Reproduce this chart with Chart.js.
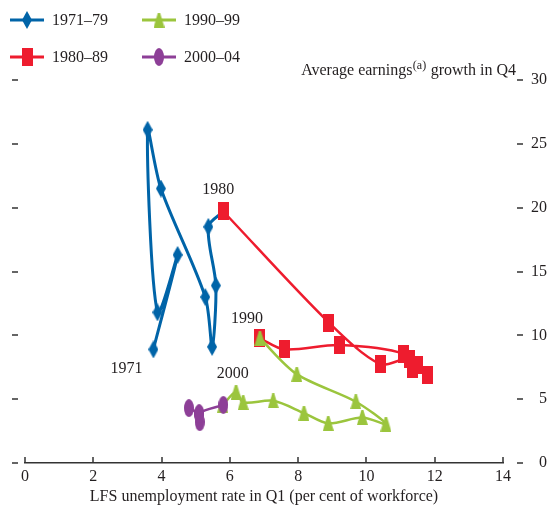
<!DOCTYPE html>
<html>
<head>
<meta charset="utf-8">
<script src="https://cdn.jsdelivr.net/npm/chart.js@4.4.1/dist/chart.umd.min.js"></script>
<style>
  html, body { margin: 0; padding: 0; background: #fff; }
  #wrap { width: 547px; height: 506px; }
</style>
</head>
<body>
<div id="wrap"><canvas id="chart" width="547" height="506"></canvas></div>
<script>
// unemployment rate in Q1 (x) and average earnings growth in Q4 (y), by year
// the 70s line runs on to the 1980 point, the 80s line to 1990 (no marker drawn there)
const YEARS_70S = ["1971", "1972", "1973", "1974", "1975", "1976", "1977", "1978", "1979", "1980"]
const UNEMP_70S = [3.76, 4.47, 3.88, 3.59, 3.98, 5.28, 5.48, 5.59, 5.37, 5.81]
const EARN_70S  = [8.9, 16.3, 11.8, 26.1, 21.5, 13.0, 9.1, 13.9, 18.5, 19.7]

const YEARS_80S = ["1980", "1981", "1982", "1983", "1984", "1985", "1986", "1987", "1988", "1989", "1990"]
const UNEMP_80S = [5.81, 8.9, 10.4, 11.25, 11.8, 11.5, 11.35, 11.1, 9.21, 7.6, 6.88]
const EARN_80S  = [19.7, 11.0, 7.75, 8.15, 6.9, 7.7, 7.35, 8.55, 9.24, 8.9, 9.77]

const YEARS_90S = ["1990", "1991", "1992", "1993", "1994", "1995", "1996", "1997", "1998", "1999", "2000"]
const UNEMP_90S = [6.88, 7.96, 9.69, 10.57, 9.88, 8.88, 8.17, 7.27, 6.39, 6.18, 5.79]
const EARN_90S  = [9.77, 6.96, 4.8, 3.05, 3.56, 3.11, 3.91, 4.87, 4.74, 5.56, 4.54]

const YEARS_00S = ["2000", "2001", "2002", "2003", "2004"]
const UNEMP_00S = [5.81, 5.1, 5.12, 5.1, 4.8]
const EARN_00S  = [4.55, 3.9, 3.2, 3.8, 4.3]

const X_TICKS = [0, 2, 4, 6, 8, 10, 12, 14]
const Y_TICKS = [0, 5, 10, 15, 20, 25, 30]

const BLUE = "#0064a8"
const RED = "#ee1c2e"
const GREEN = "#9bc53d"
const PURPLE = "#8d3f97"
const INK = "#231f20"
const AXIS = "#333333"
const FONT = "'Liberation Serif', 'DejaVu Serif', serif"

// little canvases used as point styles
function marker(w, h, color, draw) {
  const c = document.createElement("canvas")
  c.width = w
  c.height = h
  const g = c.getContext("2d")
  g.fillStyle = color
  g.beginPath()
  draw(g, w, h)
  g.fill()
  return c
}

const DIAMOND = marker(10, 18, BLUE, (g, w, h) => {
  g.moveTo(w / 2, 0); g.lineTo(w, h / 2); g.lineTo(w / 2, h); g.lineTo(0, h / 2); g.closePath()
})
const SQUARE = marker(11, 18, RED, (g, w, h) => g.rect(0, 0, w, h))
const TRIANGLE = marker(11, 15, GREEN, (g, w, h) => {
  g.moveTo(w / 2 - 1, 0); g.lineTo(w / 2 + 1, 0); g.lineTo(w, h); g.lineTo(0, h); g.closePath()
})
const OVAL = marker(10, 18, PURPLE, (g, w, h) => g.ellipse(w / 2, h / 2, w / 2, h / 2, 0, 0, Math.PI * 2))

const pts = (xs, ys) => xs.map((x, i) => ({ x: x, y: ys[i] }))
const lastHidden = n => Array.from({ length: n }, (_, i) => (i === n - 1 ? 0 : 6))

const LEGEND = [
  { label: "1971–79", color: BLUE, img: DIAMOND, x: 10, y: 20 },
  { label: "1990–99", color: GREEN, img: TRIANGLE, x: 142, y: 20 },
  { label: "1980–89", color: RED, img: SQUARE, x: 10, y: 57 },
  { label: "2000–04", color: PURPLE, img: OVAL, x: 142, y: 57 }
]

// year labels next to the first point of each decade
const NOTES = [
  { text: "1971", set: 0, idx: 0, dx: -27, dy: 19 },
  { text: "1980", set: 1, idx: 0, dx: -5, dy: -22 },
  { text: "1990", set: 2, idx: 0, dx: -13, dy: -19 },
  { text: "2000", set: 2, idx: 10, dx: 10, dy: -31 }
]

const decor = {
  id: "decor",
  afterDraw(chart) {
    const { ctx, chartArea: a, scales: { x, y } } = chart
    ctx.save()
    ctx.strokeStyle = AXIS
    ctx.lineWidth = 1.5
    ctx.beginPath()
    X_TICKS.forEach(v => {
      const px = Math.round(x.getPixelForValue(v))
      ctx.moveTo(px, a.bottom); ctx.lineTo(px, a.bottom - 6)
    })
    Y_TICKS.forEach(v => {
      const py = Math.round(y.getPixelForValue(v))
      ctx.moveTo(a.left - 13, py); ctx.lineTo(a.left - 7, py)
      ctx.moveTo(a.right + 14, py); ctx.lineTo(a.right + 20, py)
    })
    ctx.stroke()

    // legend
    ctx.font = "16px " + FONT
    ctx.fillStyle = INK
    ctx.textBaseline = "middle"
    LEGEND.forEach(l => {
      ctx.strokeStyle = l.color
      ctx.lineWidth = 3
      ctx.beginPath(); ctx.moveTo(l.x, l.y); ctx.lineTo(l.x + 34, l.y); ctx.stroke()
      ctx.drawImage(l.img, l.x + 17 - l.img.width / 2, l.y - l.img.height / 2)
      ctx.fillText(l.label, l.x + 42, l.y + 1)
    })

    // y axis title with superscript
    const right = 516, base = 75
    ctx.textBaseline = "alphabetic"
    const a1 = "Average earnings", a2 = "(a)", a3 = " growth in Q4"
    ctx.font = "16px " + FONT
    const w1 = ctx.measureText(a1).width, w3 = ctx.measureText(a3).width
    ctx.font = "12px " + FONT
    const w2 = ctx.measureText(a2).width
    const sx = right - w1 - w2 - w3 - 1
    ctx.font = "16px " + FONT
    ctx.fillText(a1, sx, base)
    ctx.font = "12px " + FONT
    ctx.fillText(a2, sx + w1 + 0.5, base - 6)
    ctx.font = "16px " + FONT
    ctx.fillText(a3, sx + w1 + w2 + 1, base)

    // year notes
    ctx.textAlign = "center"
    ctx.textBaseline = "middle"
    NOTES.forEach(n => {
      const p = chart.getDatasetMeta(n.set).data[n.idx]
      ctx.fillText(n.text, p.x + n.dx, p.y + n.dy)
    })
    ctx.restore()
  }
}

new Chart(document.getElementById("chart").getContext("2d"), {
  type: "line",
  data: {
    datasets: [
      {
        label: "1971–79", data: pts(UNEMP_70S, EARN_70S), borderColor: BLUE, borderWidth: 3,
        pointStyle: DIAMOND, pointRadius: lastHidden(UNEMP_70S.length), order: 4
      },
      {
        label: "1980–89", data: pts(UNEMP_80S, EARN_80S), borderColor: RED, borderWidth: 2.5,
        pointStyle: SQUARE, pointRadius: 6, order: 3
      },
      {
        label: "1990–99", data: pts(UNEMP_90S, EARN_90S), borderColor: GREEN, borderWidth: 2.5,
        pointStyle: TRIANGLE, pointRadius: 6, order: 2
      },
      {
        label: "2000–04", data: pts(UNEMP_00S, EARN_00S), borderColor: PURPLE, borderWidth: 2.5,
        pointStyle: OVAL, pointRadius: 6, order: 1
      }
    ]
  },
  options: {
    responsive: false,
    animation: false,
    events: [],
    layout: { padding: { top: 80, left: 25, right: 0, bottom: 0 } },
    elements: { line: { tension: 0.3 } },
    plugins: { legend: { display: false }, tooltip: { enabled: false } },
    scales: {
      x: {
        type: "linear", min: 0, max: 14,
        afterFit: s => { s.height = 43 },
        afterBuildTicks: s => { s.ticks = X_TICKS.map(v => ({ value: v })) },
        grid: { display: false, drawTicks: false },
        border: { display: true, color: AXIS, width: 1.5 },
        ticks: { color: INK, font: { family: FONT, size: 16 }, padding: 4, maxRotation: 0 },
        title: {
          display: true, text: "LFS unemployment rate in Q1 (per cent of workforce)",
          color: INK, font: { family: FONT, size: 16 }, padding: { top: 0, bottom: 0 }
        }
      },
      y: {
        type: "linear", position: "right", min: 0, max: 30,
        afterFit: s => { s.width = 44 },
        afterBuildTicks: s => { s.ticks = Y_TICKS.map(v => ({ value: v })) },
        grid: { display: false, drawTicks: false },
        border: { display: false },
        ticks: { color: INK, font: { family: FONT, size: 16 }, padding: 26, crossAlign: "far" }
      }
    }
  },
  plugins: [decor]
})
</script>
</body>
</html>
